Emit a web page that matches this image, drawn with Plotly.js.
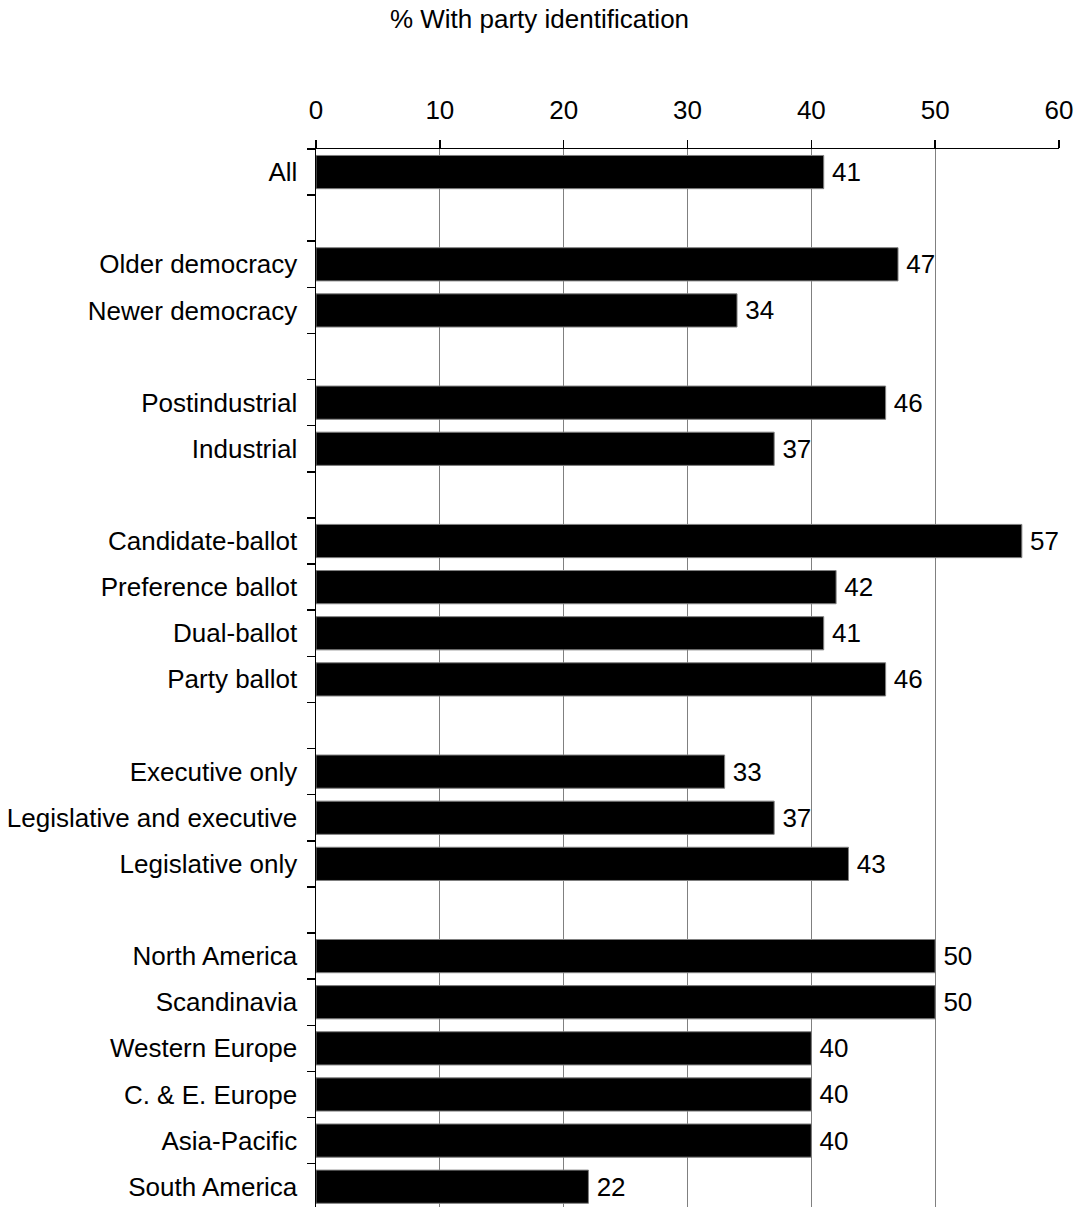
<!DOCTYPE html>
<html>
<head>
<meta charset="utf-8">
<script src="https://cdn.plot.ly/plotly-3.0.1.min.js"></script>
<style>html,body{margin:0;padding:0;overflow:hidden;background:#fff;}</style>
</head>
<body>
<div id="chart" style="width:1079px;height:1207px;"></div>
<script>
const categories = [
  "All", " ",
  "Older democracy", "Newer democracy", "  ",
  "Postindustrial", "Industrial", "   ",
  "Candidate-ballot", "Preference ballot", "Dual-ballot", "Party ballot", "    ",
  "Executive only", "Legislative and executive", "Legislative only", "     ",
  "North America", "Scandinavia", "Western Europe", "C. & E. Europe", "Asia-Pacific", "South America"
];
const values = [
  41, null,
  47, 34, null,
  46, 37, null,
  57, 42, 41, 46, null,
  33, 37, 43, null,
  50, 50, 40, 40, 40, 22
];
const xTicks = [0, 10, 20, 30, 40, 50, 60];
const labels = values.map(v => v === null ? "" : "\u2009" + String(v));

const font = "Liberation Sans, Arial, sans-serif";
const trace = {
  type: "bar",
  orientation: "h",
  x: values,
  y: categories,
  text: labels,
  textposition: "outside",
  cliponaxis: false,
  constraintext: "none",
  textfont: {family: font, size: 26, color: "#000"},
  marker: {color: "#000", line: {color: "#808080", width: 1}},
  hoverinfo: "none"
};
const layout = {
  width: 1079, height: 1207,
  margin: {l: 316, r: 20, t: 149, b: 0, pad: 0},
  paper_bgcolor: "#fff", plot_bgcolor: "#fff",
  font: {family: font, size: 26, color: "#000"},
  showlegend: false,
  bargap: 0.28,
  title: {text: "% With party identification", x: 0.5, xref: "container", xanchor: "center",
          y: 0.984, yref: "container", yanchor: "middle", font: {family: font, size: 26, color: "#000"}},
  xaxis: {
    side: "top", range: [0, 60], tickvals: xTicks, ticktext: xTicks.map(String),
    showgrid: true, gridcolor: "#808080", gridwidth: 1, zeroline: false,
    showline: true, linecolor: "#000", linewidth: 1.5,
    ticks: "outside", ticklen: 8, tickcolor: "#000", tickwidth: 1.5,
    ticklabelstandoff: 10,
    tickfont: {family: font, size: 26, color: "#000"}, fixedrange: true
  },
  yaxis: {
    type: "category", categoryorder: "array", categoryarray: categories,
    range: [22.44, -0.5], tickson: "boundaries",
    showgrid: false, zeroline: false,
    showline: true, linecolor: "#000", linewidth: 1.5,
    ticks: "outside", ticklen: 8, tickcolor: "#000", tickwidth: 1.5,
    ticklabelstandoff: 12,
    tickfont: {family: font, size: 26, color: "#000"}, fixedrange: true
  }
};
Plotly.newPlot("chart", [trace], layout, {staticPlot: true, displayModeBar: false});
</script>
</body>
</html>
